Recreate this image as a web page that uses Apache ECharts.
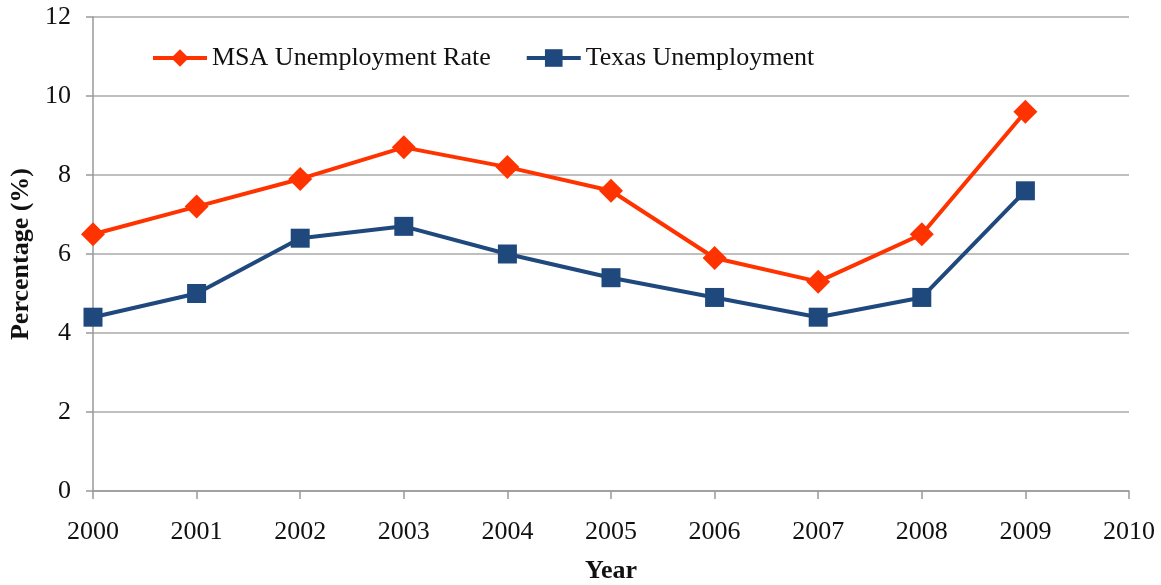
<!DOCTYPE html>
<html>
<head>
<meta charset="utf-8">
<script src="https://cdn.jsdelivr.net/npm/echarts@6/dist/echarts.min.js"></script>
<style>html,body{margin:0;padding:0;background:#fff}#c{width:1161px;height:585px}</style>
</head>
<body>
<div id="c"></div>
<script>
const years = [2000, 2001, 2002, 2003, 2004, 2005, 2006, 2007, 2008, 2009];
const msaRate = [6.5, 7.2, 7.9, 8.7, 8.2, 7.6, 5.9, 5.3, 6.5, 9.6];
const texasRate = [4.4, 5.0, 6.4, 6.7, 6.0, 5.4, 4.9, 4.4, 4.9, 7.6];
const seriesNames = ['MSA Unemployment Rate', 'Texas Unemployment'];
const xTitle = 'Year';
const yTitle = 'Percentage (%)';

const font = '"Liberation Serif", "Times New Roman", serif';
const chart = echarts.init(document.getElementById('c'));
chart.setOption({
  animation: false,
  backgroundColor: '#fff',
  textStyle: { fontFamily: font },
  grid: { left: 93, right: 32, top: 17, bottom: 94, containLabel: false, outerBoundsMode: 'none' },
  legend: {
    data: seriesNames,
    left: 146, top: 40,
    itemWidth: 54, itemHeight: 22, itemGap: 34,
    lineStyle: { width: 4 },
    textStyle: { fontFamily: font, fontSize: 26, color: '#111' }
  },
  xAxis: {
    type: 'value', min: 2000, max: 2010, interval: 1,
    name: xTitle, nameLocation: 'middle', nameGap: 67,
    nameTextStyle: { fontFamily: font, fontSize: 26, fontWeight: 'bold', color: '#111' },
    axisLine: { lineStyle: { color: '#999', width: 1.5 } },
    axisTick: { show: true, length: 8, lineStyle: { color: '#999', width: 1.5 } },
    splitLine: { show: false },
    axisLabel: { fontFamily: font, fontSize: 26, color: '#111', margin: 28, formatter: v => String(v) }
  },
  yAxis: {
    type: 'value', min: 0, max: 12, interval: 2,
    name: yTitle, nameLocation: 'middle', nameGap: 58,
    nameTextStyle: { fontFamily: font, fontSize: 26, fontWeight: 'bold', color: '#111' },
    axisLine: { show: true, lineStyle: { color: '#999', width: 1.5 } },
    axisTick: { show: true, length: 7, lineStyle: { color: '#999', width: 1.5 } },
    splitLine: { lineStyle: { color: '#aaa', width: 1.5 } },
    axisLabel: { fontFamily: font, fontSize: 26, color: '#111', margin: 22 }
  },
  series: [
    {
      name: seriesNames[0], type: 'line',
      data: years.map((y, i) => [y, msaRate[i]]),
      symbol: 'diamond', symbolSize: 24,
      lineStyle: { color: '#FF3300', width: 4 },
      itemStyle: { color: '#FF3300' }
    },
    {
      name: seriesNames[1], type: 'line',
      data: years.map((y, i) => [y, texasRate[i]]),
      symbol: 'rect', symbolSize: 19,
      lineStyle: { color: '#1F497D', width: 4 },
      itemStyle: { color: '#1F497D' }
    }
  ]
});
</script>
</body>
</html>
